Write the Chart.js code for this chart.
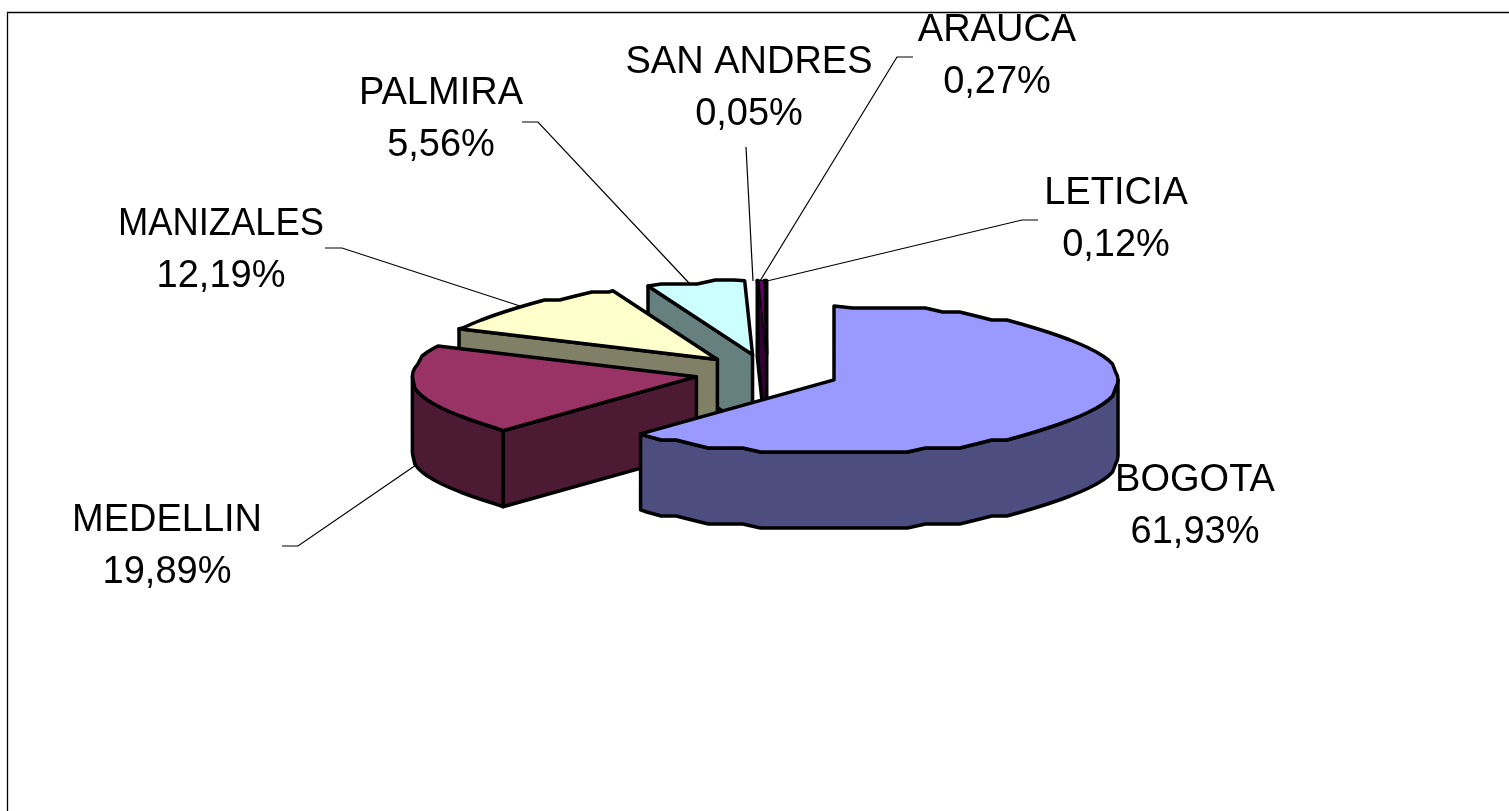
<!DOCTYPE html>
<html>
<head>
<meta charset="utf-8">
<title>Pie</title>
<script src="https://cdn.jsdelivr.net/npm/chart.js@4/dist/chart.umd.min.js"></script>
<style>
  html, body { margin: 0; padding: 0; background: #fff; }
  canvas { display: block; }
</style>
</head>
<body>
<canvas id="pie" width="1509" height="811"></canvas>
<script>
const cities = ['BOGOTA', 'MEDELLIN', 'MANIZALES', 'PALMIRA', 'SAN ANDRES', 'ARAUCA', 'LETICIA'];
const shares = [61.93, 19.89, 12.19, 5.56, 0.05, 0.27, 0.12];
const topColors = ['#9999FF', '#993366', '#FFFFCC', '#CCFFFF', '#000000', '#660066', '#000000'];
const sideColors = ['#4D4D80', '#4D1A33', '#808066', '#668080', '#000000', '#330033', '#000000'];

// where each label sits, and its leader line (null = none)
const labelLayout = [
  { x: 1195, y: 491, leader: null },
  { x: 167, y: 531, leader: [[282, 546], [298, 546], [416, 465]] },
  { x: 221, y: 235, fit: 206, leader: [[325, 248], [342, 248], [520, 306]] },
  { x: 441, y: 104, leader: [[522, 122], [538, 122], [689, 283]] },
  { x: 749, y: 73, leader: [[746, 147], [753, 281]] },
  { x: 997, y: 41, leader: [[913, 57], [897, 57], [760, 281]] },
  { x: 1116, y: 204, leader: [[1038, 220], [1022, 220], [767, 281]] }
];

// back to front, the thin slices first so Arauca stays visible
const paintOrder = [6, 4, 5, 3, 2, 1, 0];

const SQUASH = 0.26;
const DEPTH = 76;
const EXPLODE = 72;
const RIM_STEP = Math.PI / 48;
const SNAP_Y = 4; // the original rim is a coarse, wobbly polyline

function sliceGeometry(arc) {
  const mid = (arc.startAngle + arc.endAngle) / 2;
  return {
    cx: arc.x + Math.cos(mid) * EXPLODE,
    cy: arc.y + Math.sin(mid) * EXPLODE * SQUASH,
    rx: arc.outerRadius,
    ry: arc.outerRadius * SQUASH,
    a0: arc.startAngle,
    a1: arc.endAngle
  };
}

// same sample angles for every call, so top face and wall share one edge
function rim(ctx, g, from, to, dy) {
  const lo = Math.min(from, to);
  const hi = Math.max(from, to);
  const pts = [];
  for (let n = Math.floor(lo / RIM_STEP) + 1; n * RIM_STEP < hi; n++) {
    const a = n * RIM_STEP;
    pts.push([g.cx + Math.cos(a) * g.rx, Math.round((g.cy + Math.sin(a) * g.ry) / SNAP_Y) * SNAP_Y]);
  }
  pts.unshift([g.cx + Math.cos(lo) * g.rx, g.cy + Math.sin(lo) * g.ry]);
  pts.push([g.cx + Math.cos(hi) * g.rx, g.cy + Math.sin(hi) * g.ry]);
  if (from > to) pts.reverse();
  pts.forEach(p => ctx.lineTo(p[0], p[1] + dy));
}

function paint(ctx, fill) {
  ctx.fillStyle = fill;
  ctx.fill();
  ctx.stroke();
}

function radialWall(ctx, g, a, fill) {
  const px = g.cx + Math.cos(a) * g.rx;
  const py = g.cy + Math.sin(a) * g.ry;
  ctx.beginPath();
  ctx.moveTo(g.cx, g.cy);
  ctx.lineTo(px, py);
  ctx.lineTo(px, py + DEPTH);
  ctx.lineTo(g.cx, g.cy + DEPTH);
  ctx.closePath();
  paint(ctx, fill);
}

const pie3d = {
  id: 'pie3d',
  beforeDatasetsDraw(chart) {
    const ctx = chart.ctx;
    const arcs = chart.getDatasetMeta(0).data;
    ctx.save();
    ctx.strokeStyle = '#000';
    ctx.lineJoin = 'round';
    paintOrder.forEach(i => {
      const g = sliceGeometry(arcs[i]);
      ctx.lineWidth = cities[i] === 'ARAUCA' ? 1.2 : 3.5;
      if (Math.cos(g.a0) < -1e-6) radialWall(ctx, g, g.a0, sideColors[i]);
      if (Math.cos(g.a1) > 1e-6) radialWall(ctx, g, g.a1, sideColors[i]);

      const f0 = Math.max(g.a0, 0);
      const f1 = Math.min(g.a1, Math.PI);
      if (f1 > f0) {
        ctx.beginPath();
        rim(ctx, g, f0, f1, 0);
        rim(ctx, g, f1, f0, DEPTH);
        ctx.closePath();
        paint(ctx, sideColors[i]);
      }

      ctx.beginPath();
      ctx.moveTo(g.cx, g.cy);
      rim(ctx, g, g.a0, g.a1, 0);
      ctx.closePath();
      paint(ctx, topColors[i]);
    });
    ctx.restore();
    return false;
  },
  afterDraw(chart) {
    const ctx = chart.ctx;
    ctx.save();
    // chart frame, open on the right and bottom
    ctx.strokeStyle = '#000';
    ctx.lineWidth = 1.3;
    ctx.beginPath();
    ctx.moveTo(7.5, 811);
    ctx.lineTo(7.5, 12.5);
    ctx.lineTo(1509, 12.5);
    ctx.stroke();

    ctx.lineWidth = 1.2;
    labelLayout.forEach(l => {
      if (!l.leader) return;
      ctx.beginPath();
      l.leader.forEach((p, k) => k ? ctx.lineTo(p[0], p[1]) : ctx.moveTo(p[0], p[1]));
      ctx.stroke();
    });

    // Arauca runs into the frame, text is cut there
    ctx.beginPath();
    ctx.rect(0, 13, 1509, 798);
    ctx.clip();
    ctx.fillStyle = '#000';
    ctx.font = '38px "Liberation Sans", Arial, sans-serif';
    ctx.textAlign = 'center';
    cities.forEach((name, i) => {
      const l = labelLayout[i];
      if (l.fit) ctx.fillText(name, l.x, l.y, l.fit);
      else ctx.fillText(name, l.x, l.y);
      ctx.fillText(shares[i].toFixed(2).replace('.', ',') + '%', l.x, l.y + 52);
    });
    ctx.restore();
  }
};

new Chart(document.getElementById('pie'), {
  type: 'pie',
  data: {
    labels: cities,
    datasets: [{ data: shares, backgroundColor: topColors, borderColor: '#000', borderWidth: 3 }]
  },
  options: {
    responsive: false,
    animation: false,
    radius: 284,
    layout: { padding: { left: 25, bottom: 65 } },
    plugins: { legend: { display: false }, tooltip: { enabled: false } }
  },
  plugins: [pie3d]
});
</script>
</body>
</html>
